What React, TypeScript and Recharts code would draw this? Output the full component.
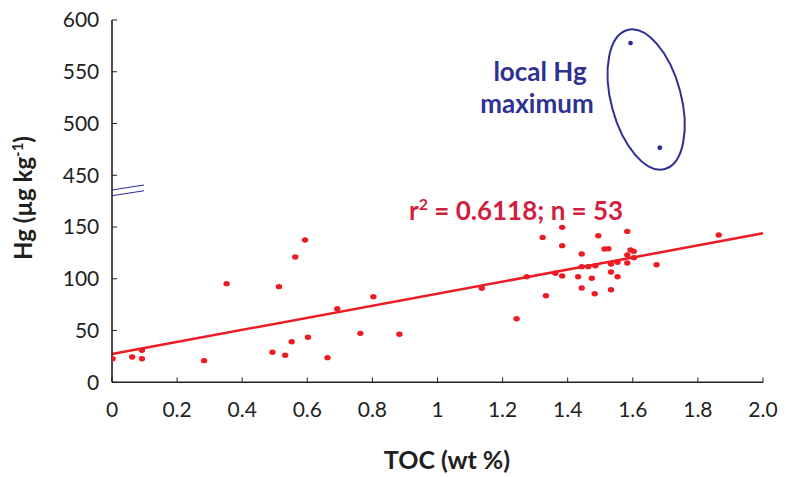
import React from 'react';
import {
  ScatterChart,
  Scatter,
  XAxis,
  YAxis,
  ReferenceLine,
  ReferenceDot,
  Customized,
} from 'recharts';

// ---- data ----
const tocRed = [
  0.002, 0.062, 0.092, 0.092, 0.283, 0.352, 0.493, 0.513, 0.532, 0.552, 0.563, 0.593, 0.602,
  0.662, 0.692, 0.763, 0.803, 0.883,
  1.136, 1.243, 1.274, 1.323, 1.333, 1.362, 1.383, 1.383, 1.383, 1.432, 1.443, 1.443, 1.443,
  1.463, 1.474, 1.483, 1.485, 1.494, 1.513, 1.525, 1.533, 1.533, 1.533, 1.553, 1.553, 1.583,
  1.583, 1.583, 1.593, 1.603, 1.603, 1.673, 1.864,
];
const hgRed = [
  22.8, 24.4, 30.9, 22.8, 20.9, 95.3, 29.0, 92.4, 26.1, 39.2, 121.0, 137.4, 43.5,
  23.8, 71.1, 47.3, 82.7, 46.4,
  90.8, 61.4, 102.0, 140.0, 83.6, 105.3, 149.7, 132.0, 102.7, 102.0, 124.0, 111.7, 91.1,
  111.7, 100.5, 85.6, 112.6, 141.6, 128.8, 129.0, 114.3, 106.5, 89.4, 116.0, 102.0, 145.8,
  123.0, 115.2, 127.8, 126.5, 120.4, 113.6, 142.3,
];
const tocBlue = [1.593, 1.683];
const hgBlue = [577.7, 476.6];

const regressionToc = [0, 2];
const regressionHg = [27.3, 143.9];

const xTicks = [0, 0.2, 0.4, 0.6, 0.8, 1, 1.2, 1.4, 1.6, 1.8, 2.0];
const xTickLabels = ['0', '0.2', '0.4', '0.6', '0.8', '1', '1.2', '1.4', '1.6', '1.8', '2.0'];
const yTickValues = [0, 50, 100, 150, 450, 500, 550, 600];

// broken y axis: 150..450 collapsed into one 50-unit step
const BREAK_LOW = 150;
const BREAK_HIGH = 450;
const BREAK_GAP = 50;
const toAxis = (v: number) => (v <= BREAK_LOW ? v : v - (BREAK_HIGH - BREAK_LOW - BREAK_GAP));
const yTicks = yTickValues.map(toAxis);
const yLabelOf = (a: number) => {
  const i = yTicks.indexOf(a);
  return i >= 0 ? String(yTickValues[i]) : '';
};

const redData = tocRed.map((x, i) => ({ x, y: toAxis(hgRed[i]) }));
const blueData = tocBlue.map((x, i) => ({ x, y: toAxis(hgBlue[i]) }));
const regSegment = regressionToc.map((x, i) => ({ x, y: toAxis(regressionHg[i]) }));

// highlight ellipse around the local maximum (centre in data units)
const ellipseToc = 1.641;
const ellipseHg = 523.2;

// break marks on left axis (axis units)
const breakMarks = [
  [{ x: 0, y: 185.7 }, { x: 0.098, y: 190.6 }],
  [{ x: 0, y: 180.2 }, { x: 0.098, y: 185.1 }],
];

const RED = '#ed1c24';
const RED_TEXT = '#d11f3f';
const BLUE = '#2e3192';
const INK = '#231f20';
const FONT = 'Lato, "Open Sans", sans-serif';

const RedDot = (p: any) => <ellipse cx={p.cx} cy={p.cy} rx={3.2} ry={2.7} fill={RED} />;
const BlueDot = (p: any) => <circle cx={p.cx} cy={p.cy} r={2.4} fill={BLUE} />;
const HighlightEllipse = (p: any) => (
  <ellipse
    cx={p.cx}
    cy={p.cy}
    rx={35}
    ry={72}
    fill="none"
    stroke={BLUE}
    strokeWidth={2}
    transform={`rotate(-15 ${p.cx} ${p.cy})`}
  />
);

const Annotations = () => (
  <g fontFamily={FONT} fontWeight={700}>
    <text x={540} y={81} fontSize={26} fill={BLUE} textAnchor="middle">
      local Hg
    </text>
    <text x={537} y={113} fontSize={26} fill={BLUE} textAnchor="middle">
      maximum
    </text>
    <text x={409} y={220} fontSize={26} fill={RED_TEXT}>
      r<tspan fontSize={16} dy={-10}>2</tspan>
      <tspan dy={10}> = 0.6118; n = 53</tspan>
    </text>
    <text x={447} y={469} fontSize={25} fill={INK} textAnchor="middle">
      TOC (wt %)
    </text>
    <text
      x={31.5}
      y={198}
      fontSize={24}
      fill={INK}
      textAnchor="middle"
      transform="rotate(-90 31.5 198)"
    >
      Hg (µg kg<tspan fontSize={15} dy={-9}>-1</tspan>
      <tspan dy={9}>)</tspan>
    </text>
  </g>
);

const tickStyle = { fill: INK, fontSize: 21, fontFamily: FONT };

export default function App() {
  return (
    <div style={{ margin: '-8px 0 0 -8px', width: 787, height: 477 }}>
      <ScatterChart
        width={787}
        height={477}
        margin={{ top: 20, right: 24, bottom: 34.7, left: 0 }}
      >
        <XAxis
          xAxisId="b"
          type="number"
          dataKey="x"
          domain={[0, 2]}
          ticks={xTicks}
          tickFormatter={(v: number) => xTickLabels[xTicks.indexOf(v)] ?? String(v)}
          height={60}
          tickSize={-5}
          tickMargin={25}
          tick={tickStyle}
          axisLine={{ stroke: INK, strokeWidth: 1.6 }}
          tickLine={{ stroke: INK, strokeWidth: 1 }}
          allowDataOverflow
          interval={0}
        />
        <XAxis
          xAxisId="t"
          orientation="top"
          type="number"
          dataKey="x"
          domain={[0, 2]}
          ticks={xTicks}
          height={0}
          tickSize={-5}
          tick={false}
          axisLine={{ stroke: INK, strokeWidth: 1.6 }}
          tickLine={{ stroke: INK, strokeWidth: 1 }}
          allowDataOverflow
          interval={0}
        />
        <YAxis
          yAxisId="l"
          type="number"
          dataKey="y"
          domain={[0, 350]}
          ticks={yTicks}
          tickFormatter={yLabelOf}
          width={112}
          tickSize={-5}
          tickMargin={17.7}
          tick={tickStyle}
          axisLine={{ stroke: INK, strokeWidth: 1.6 }}
          tickLine={{ stroke: INK, strokeWidth: 1 }}
          allowDataOverflow
          interval={0}
        />
        <YAxis
          yAxisId="r"
          orientation="right"
          type="number"
          dataKey="y"
          domain={[0, 350]}
          ticks={yTicks}
          width={0}
          tickSize={-5}
          tick={false}
          axisLine={{ stroke: INK, strokeWidth: 1.6 }}
          tickLine={{ stroke: INK, strokeWidth: 1 }}
          allowDataOverflow
          interval={0}
        />
        <ReferenceLine
          xAxisId="b"
          yAxisId="l"
          segment={regSegment}
          stroke={RED}
          strokeWidth={2.5}
          ifOverflow="visible"
        />
        {breakMarks.map((seg, i) => (
          <ReferenceLine
            key={i}
            xAxisId="b"
            yAxisId="l"
            segment={seg}
            stroke={BLUE}
            strokeWidth={1.1}
            ifOverflow="visible"
          />
        ))}
        <Scatter
          xAxisId="b"
          yAxisId="l"
          data={redData}
          shape={RedDot}
          isAnimationActive={false}
        />
        <Scatter
          xAxisId="t"
          yAxisId="r"
          data={blueData}
          shape={BlueDot}
          isAnimationActive={false}
        />
        <ReferenceDot
          xAxisId="b"
          yAxisId="l"
          x={ellipseToc}
          y={toAxis(ellipseHg)}
          shape={HighlightEllipse}
          ifOverflow="visible"
        />
        <Customized component={<Annotations />} />
      </ScatterChart>
    </div>
  );
}
